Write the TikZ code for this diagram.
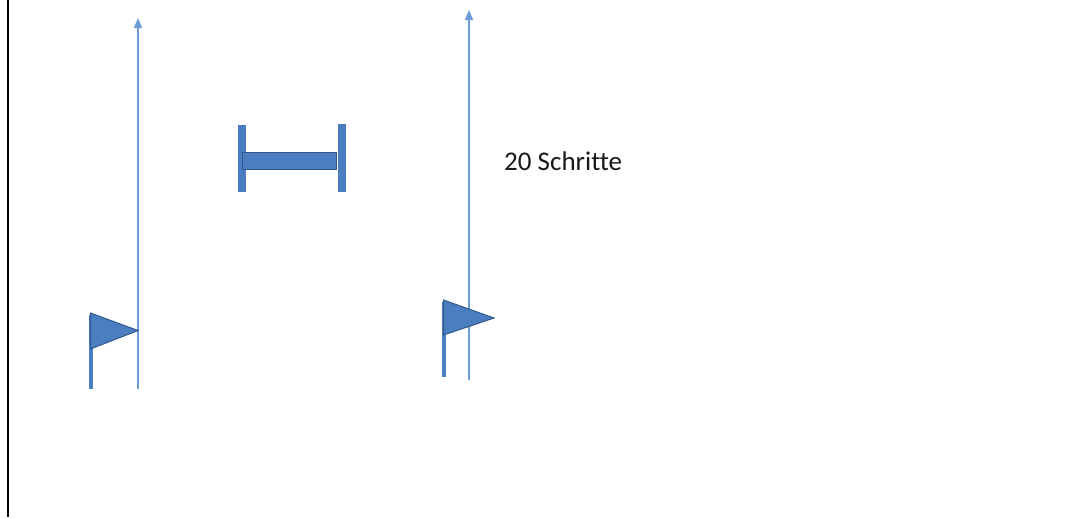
\documentclass[tikz,border=0pt]{standalone}
\usepackage{fontspec}
\setmainfont[Ligatures=NoCommon]{Carlito}
\usetikzlibrary{arrows.meta}
\definecolor{arrowcol}{RGB}{108,155,214}
\definecolor{shapefill}{RGB}{74,126,192}
\definecolor{shapeline}{RGB}{50,88,140}
\tikzset{
  upline/.style={draw=arrowcol, line width=1.7pt, -{Triangle[length=10pt,width=8pt]}},
  flagcloth/.style={fill=shapefill, draw=shapeline, line width=1pt, line join=miter},
  flagpole/.style={fill=shapefill, draw=none},
  barend/.style={fill=shapefill, draw=none},
  barmid/.style={fill=shapefill, draw=shapeline, line width=1.8pt},
  label/.style={font=\fontsize{27}{31}\selectfont, text=black!90, inner sep=0pt, anchor=west}
}
\begin{document}
\begin{tikzpicture}[x=1pt,y=-1pt]
\useasboundingbox (0,0) rectangle (1073,517);
\fill[white] (0,0) rectangle (1073,517);
% left border
\draw[black, line width=2.6pt] (8,0) -- (8,517);
% left arrow
\coordinate (a1s) at (138,389);
\coordinate (a1e) at (138,18);
\draw[upline] (a1s) -- (a1e);
% right arrow
\coordinate (a2s) at (469,380);
\coordinate (a2e) at (469,10);
\draw[upline] (a2s) -- (a2e);
% left flag
\fill[flagpole] (88.5,315) rectangle (93,389);
\draw[flagcloth] (90.5,313) -- (138,330.5) -- (90.5,349) -- cycle;
% right flag
\fill[flagpole] (441.5,302) rectangle (446,377);
\draw[flagcloth] (443.5,300) -- (494,318) -- (443.5,335) -- cycle;
% barbell
\fill[barend] (237.5,125) rectangle (246,192);
\fill[barend] (337.5,124) rectangle (346,192);
\draw[barmid] (242.5,152.5) rectangle (336.5,169.5);
% text
\node[label] (t) at (504,161) {20 Schritte};
\end{tikzpicture}
\end{document}
